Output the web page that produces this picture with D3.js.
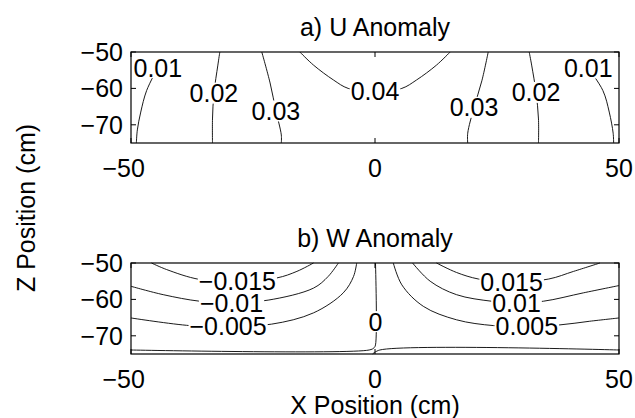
<!DOCTYPE html>
<html lang="en">
<head>
<meta charset="utf-8">
<title>U and W Anomaly</title>
<script src="https://d3js.org/d3.v7.min.js"></script>
<style>
  body { margin: 0; background: #fff; }
  svg { display: block; font-family: "Liberation Sans", Arial, sans-serif; }
  .contour { fill: none; stroke: #000; stroke-width: 0.9; }
  .box { fill: none; stroke: #000; stroke-width: 1.2; }
  .tick { stroke: #000; stroke-width: 1; }
  text { fill: #000; }
</style>
</head>
<body>
<svg id="chart" width="635" height="418"></svg>
<script>
    // axes
    const xDomain = [-50, 50];
    const zDomain = [-75, -50];
    const xTicks = [-50, 0, 50];
    const zTicks = [-50, -60, -70];

    // a) U anomaly contours, [x, z] in cm
    const u01a = [[-48.9, -75], [-48.7, -71.4], [-48.0, -66.5], [-46.8, -60.6], [-44.5, -54.3]];
    const u01b = [[48.9, -75], [48.8, -72.3], [48.0, -66.5], [46.7, -60.6], [43.7, -54.4]];
    const u02a = [[-31.8, -50], [-32.2, -53.6], [-33.0, -61.3], [-33.3, -68.4], [-33.3, -75]];
    const u02b = [[31.6, -50], [32.1, -53.6], [33.0, -61.1], [33.5, -68.4], [33.5, -75]];
    const u03a = [[-23.2, -50], [-21.5, -58.5], [-20.3, -66.2], [-19.2, -72.8], [-19.2, -75]];
    const u03b = [[23.2, -50], [21.9, -57.9], [20.3, -65.2], [19.0, -72.3], [19.0, -75]];
    const u04 = [[-15.4, -50], [-12.6, -53.6], [-8.5, -57.7], [-5.5, -60], [0, -61],
                 [5.5, -60], [8.5, -57.7], [12.6, -53.6], [15.4, -50]];
    const uLabels = [["0.01", -44.5, -54.3], ["0.02", -33.0, -61.3], ["0.03", -20.3, -66.2],
                     ["0.04", 0, -60.8], ["0.03", 20.3, -65.2], ["0.02", 33.0, -61.1],
                     ["0.01", 43.7, -54.4]];

    // b) W anomaly contours
    const wm015 = [[-45.8, -50], [-42.7, -51.8], [-36, -54.5], [-28.2, -55.0], [-20.1, -54.1], [-16, -52.3], [-12.6, -50]];
    const wm010 = [[-50, -56.4], [-43.4, -58.7], [-35.9, -60.5], [-29.4, -60.9], [-21.9, -60.2], [-12.6, -56.9], [-9.6, -53.7], [-7.5, -50]];
    const wm005 = [[-50, -65.1], [-37.9, -67.2], [-30.1, -67.4], [-21.2, -66.8], [-12.6, -63.7], [-6.5, -58.2], [-4.4, -53.7], [-3.75, -50]];
    const w0a = [[-50, -73.9], [-1.2, -73.9], [-0.2, -73.3], [0.1, -72.5], [0.1, -50]];
    const w0b = [[50, -73.9], [1.0, -73.9], [-0.5, -75]];
    const wp005 = [[3.75, -50], [5.5, -56], [9.9, -61.9], [16.7, -65.6], [24.3, -67.2], [31.1, -67.4], [37.9, -67], [44, -66], [50, -65.1]];
    const wp010 = [[7.7, -50], [11.3, -55], [16.7, -58.7], [23.9, -60.5], [29, -60.9], [34.5, -60.5], [42.7, -58.2], [50, -56.2]];
    const wp015 = [[12.6, -50], [16.7, -52.6], [21.2, -54.4], [28, -55.3], [35.6, -54.4], [40.7, -52.3], [46.1, -50]];
    const wLabels = [["\u22120.015", -28.2, -55.0], ["\u22120.01", -29.4, -60.9], ["\u22120.005", -30.1, -67.2],
                     ["0", 0.1, -66.1], ["0.015", 28, -55.3], ["0.01", 29, -60.9], ["0.005", 31.1, -67.2]];

    const panels = [
        { title: "a) U Anomaly", top: 52, bottom: 143,
          lines: [u01a, u01b, u02a, u02b, u03a, u03b, u04], labels: uLabels },
        { title: "b) W Anomaly", top: 263, bottom: 354,
          lines: [wm015, wm010, wm005, w0a, w0b, wp005, wp010, wp015], labels: wLabels }
    ];

    const fs = 25;
    const tickLen = 5;
    const svg = d3.select("#chart");
    const x = d3.scaleLinear().domain(xDomain).range([131, 619]);
    const fmt = v => v < 0 ? "\u2212" + (-v) : String(v);

    function textWidth(s) {
        const t = svg.append("text").attr("font-size", fs).text(s);
        const w = t.node().getComputedTextLength();
        t.remove();
        return w;
    }

    function drawPanel(p, i) {
        const z = d3.scaleLinear().domain(zDomain).range([p.bottom, p.top]);
        const line = d3.line()
            .x(d => x(d[0]))
            .y(d => z(d[1]))
            .curve(d3.curveCatmullRom.alpha(0.5));

        // gaps in the lines where the labels sit
        const mask = svg.append("mask").attr("id", "gap" + i)
            .attr("maskUnits", "userSpaceOnUse");
        mask.append("rect").attr("width", 635).attr("height", 418).attr("fill", "#fff");
        p.labels.forEach(([s, lx, lz]) => {
            const w = textWidth(s) + 2;
            const h = fs * 0.72 + 3;
            mask.append("rect")
                .attr("x", x(lx) - w / 2).attr("y", z(lz) - h / 2)
                .attr("width", w).attr("height", h).attr("fill", "#000");
        });

        const g = svg.append("g");

        g.append("g").attr("mask", `url(#gap${i})`)
            .selectAll("path").data(p.lines).join("path")
            .attr("class", "contour")
            .attr("d", line);

        g.append("g").selectAll("text").data(p.labels).join("text")
            .attr("x", d => x(d[1]))
            .attr("y", d => z(d[2]) + fs * 0.358)
            .attr("text-anchor", "middle")
            .attr("font-size", fs)
            .text(d => d[0]);

        g.append("rect").attr("class", "box")
            .attr("x", x(xDomain[0])).attr("y", p.top)
            .attr("width", x(xDomain[1]) - x(xDomain[0]))
            .attr("height", p.bottom - p.top);

        xTicks.forEach(v => {
            g.append("line").attr("class", "tick")
                .attr("x1", x(v)).attr("x2", x(v))
                .attr("y1", p.bottom).attr("y2", p.bottom - tickLen);
            g.append("line").attr("class", "tick")
                .attr("x1", x(v)).attr("x2", x(v))
                .attr("y1", p.top).attr("y2", p.top + tickLen);
            // centre the digits on the tick, minus sign hangs left
            const w = textWidth(String(Math.abs(v)));
            g.append("text")
                .attr("x", x(v) + w / 2)
                .attr("y", p.bottom + 33.5)
                .attr("text-anchor", "end")
                .attr("font-size", fs)
                .text(fmt(v));
        });

        zTicks.forEach(v => {
            g.append("line").attr("class", "tick")
                .attr("x1", x(xDomain[0])).attr("x2", x(xDomain[0]) + tickLen)
                .attr("y1", z(v)).attr("y2", z(v));
            g.append("line").attr("class", "tick")
                .attr("x1", x(xDomain[1])).attr("x2", x(xDomain[1]) - tickLen)
                .attr("y1", z(v)).attr("y2", z(v));
            g.append("text")
                .attr("x", 123)
                .attr("y", z(v) + fs * 0.358)
                .attr("text-anchor", "end")
                .attr("font-size", fs)
                .text(fmt(v));
        });

        g.append("text")
            .attr("x", x(0)).attr("y", p.top - 16)
            .attr("text-anchor", "middle")
            .attr("font-size", fs)
            .text(p.title);
    }

    panels.forEach(drawPanel);

    svg.append("text")
        .attr("x", x(0)).attr("y", 414)
        .attr("text-anchor", "middle")
        .attr("font-size", fs)
        .text("X Position (cm)");

    svg.append("text")
        .attr("transform", "translate(35,208) rotate(-90)")
        .attr("text-anchor", "middle")
        .attr("font-size", fs)
        .text("Z Position (cm)");
</script>
</body>
</html>
